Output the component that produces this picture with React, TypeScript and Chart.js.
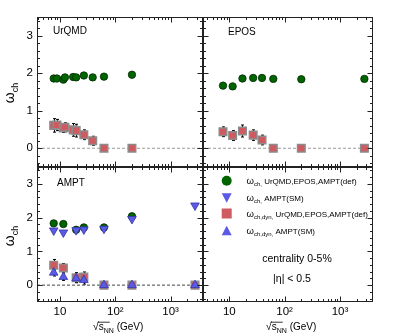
import React, { useEffect, useRef } from 'react';
import { Chart, registerables } from 'chart.js';
Chart.register(...registerables);

const W = 407;
const H = 336;
const FONT = '"Liberation Sans", Arial, Helvetica, sans-serif';

// ---------------- data ----------------
const urqmdEnergy = [7.7, 8.8, 11.5, 12.3, 17.3, 19.6, 27, 39, 62.4, 200];
const urqmdOmegaCh = [1.86, 1.86, 1.83, 1.89, 1.9, 1.89, 1.94, 1.89, 1.91, 1.96];
const urqmdOmegaDyn = [0.61, 0.62, 0.54, 0.56, 0.49, 0.47, 0.36, 0.2, 0.0, 0.0];
const urqmdOmegaDynErr = [0.18, 0.15, 0.12, 0.12, 0.17, 0.17, 0.13, 0.12, 0.08, 0.08];

const eposEnergy = [7.7, 11.5, 17.3, 27, 39, 62.4, 200, 2760];
const eposOmegaCh = [1.67, 1.65, 1.86, 1.875, 1.875, 1.85, 1.84, 1.85];
const eposOmegaDyn = [0.44, 0.34, 0.46, 0.35, 0.22, 0.0, 0.0, 0.0];
const eposOmegaDynErr = [0.13, 0.13, 0.16, 0.14, 0.13, 0.06, 0.06, 0.06];

const amptDefChEnergy = [7.7, 11.5, 19.6, 27, 62.4, 200];
const amptDefOmegaCh = [1.83, 1.81, 1.64, 1.71, 1.71, 2.04];
const amptDefDynEnergy = [7.7, 11.5, 19.6, 27, 62.4, 200, 2760];
const amptDefOmegaDyn = [0.59, 0.51, 0.22, 0.24, 0.0, 0.0, 0.0];
const amptDefOmegaDynErr = [0.17, 0.13, 0.15, 0.15, 0.1, 0.1, 0.08];
const amptSmEnergy = [7.7, 11.5, 19.6, 27, 62.4, 200, 2760];
const amptSmOmegaCh = [1.62, 1.56, 1.63, 1.65, 1.67, 1.96, 2.36];
const amptSmOmegaDyn = [0.37, 0.24, 0.2, 0.15, 0.0, 0.0, 0.0];
const amptSmOmegaDynErr = [0.1, 0.1, 0.12, 0.12, 0.1, 0.1, 0.06];

const yTickValues = [0, 1, 2, 3];
const xTickValues = [10, 100, 1000];
const xTickLabels = ['10', '10²', '10³'];

const legendLabels = [
  { sub: 'ch,', text: ' UrQMD,EPOS,AMPT(def)' },
  { sub: 'ch,', text: ' AMPT(SM)' },
  { sub: 'ch,dyn,', text: ' UrQMD,EPOS,AMPT(def)' },
  { sub: 'ch,dyn,', text: ' AMPT(SM)' },
];

// ---------------- styles ----------------
const GREEN = '#006400';
const RED = '#cf5a60';
const BLUE = '#5a5ae6';

const pts = (xs: number[], ys: number[]) => xs.map((x, i) => ({ x, y: ys[i] }));

const circleDs = (xs: number[], ys: number[]) => ({
  data: pts(xs, ys),
  pointStyle: 'circle',
  pointRadius: 3.7,
  backgroundColor: GREEN,
  borderColor: '#002800',
  borderWidth: 0.8,
});
const squareDs = (xs: number[], ys: number[]) => ({
  data: pts(xs, ys),
  pointStyle: 'rect',
  pointRadius: 5.4,
  backgroundColor: RED,
  borderColor: '#8c8c8c',
  borderWidth: 1.4,
});
const triDs = (xs: number[], ys: number[], down: boolean) => ({
  data: pts(xs, ys),
  pointStyle: 'triangle',
  rotation: down ? 180 : 0,
  pointRadius: 5,
  backgroundColor: BLUE,
  borderColor: '#3535a8',
  borderWidth: 0.8,
});
const zeroDs = (xMin: number, xMax: number, color: string) => ({
  data: [
    { x: xMin, y: 0 },
    { x: xMax, y: 0 },
  ],
  showLine: true,
  borderColor: color,
  borderWidth: 1,
  borderDash: [3, 2],
  pointRadius: 0,
});

type Part = { t: string; size: number; dy?: number; over?: boolean };

function drawParts(ctx: CanvasRenderingContext2D, parts: Part[], x: number, y: number, align: 'left' | 'center') {
  const widths = parts.map((p) => {
    ctx.font = `${p.size}px ${FONT}`;
    return ctx.measureText(p.t).width;
  });
  const total = widths.reduce((a, b) => a + b, 0);
  let cx = align === 'center' ? x - total / 2 : x;
  ctx.textAlign = 'left';
  ctx.textBaseline = 'alphabetic';
  parts.forEach((p, i) => {
    ctx.font = `${p.size}px ${FONT}`;
    ctx.fillText(p.t, cx, y + (p.dy || 0));
    if (p.over) {
      ctx.beginPath();
      ctx.moveTo(cx - 1, y - p.size * 0.78);
      ctx.lineTo(cx + widths[i] + 6, y - p.size * 0.78);
      ctx.lineWidth = 0.8;
      ctx.stroke();
    }
    cx += widths[i];
  });
}

function drawOmegaTitle(ctx: CanvasRenderingContext2D, x: number, yc: number) {
  ctx.save();
  ctx.translate(x, yc);
  ctx.rotate(-Math.PI / 2);
  ctx.fillStyle = '#000';
  drawParts(ctx, [
    { t: 'ω', size: 14 },
    { t: 'ch', size: 9, dy: 4 },
  ], 0, 0, 'center');
  ctx.restore();
}

function drawXTitle(ctx: CanvasRenderingContext2D, xc: number, y: number) {
  ctx.save();
  ctx.fillStyle = '#000';
  ctx.strokeStyle = '#000';
  drawParts(ctx, [
    { t: '√', size: 11 },
    { t: 's', size: 10, over: true },
    { t: 'NN', size: 7, dy: 2.5 },
    { t: ' (GeV)', size: 10 },
  ], xc, y, 'center');
  ctx.restore();
}

type ErrSet = { x: number[]; y: number[]; e: number[] };
type PanelDef = {
  rect: [number, number, number, number];
  xMin: number;
  xMax: number;
  showX: boolean;
  showY: boolean;
  datasets: any[];
  errors: ErrSet[];
  deco: (ctx: CanvasRenderingContext2D, chart: any) => void;
};

const Y_AXIS_W = 30;
const X_AXIS_H = 30;

function buildConfig(p: PanelDef): any {
  const [l, t, r, b] = p.rect;
  const padding = {
    left: p.showY ? l - Y_AXIS_W : l,
    top: t,
    right: W - r,
    bottom: p.showX ? H - b - X_AXIS_H : H - b,
  };
  const plugin = {
    id: 'panelDeco',
    beforeDatasetsDraw(chart: any) {
      const ctx = chart.ctx as CanvasRenderingContext2D;
      const xs = chart.scales.x;
      const ys = chart.scales.y;
      ctx.save();
      ctx.strokeStyle = '#000';
      ctx.lineWidth = 1;
      for (const eb of p.errors) {
        eb.x.forEach((xv, i) => {
          const px = Math.round(xs.getPixelForValue(xv)) + 0.5;
          const y1 = ys.getPixelForValue(eb.y[i] - eb.e[i]);
          const y2 = ys.getPixelForValue(eb.y[i] + eb.e[i]);
          ctx.beginPath();
          ctx.moveTo(px, y1);
          ctx.lineTo(px, y2);
          ctx.moveTo(px - 1.5, y1);
          ctx.lineTo(px + 1.5, y1);
          ctx.moveTo(px - 1.5, y2);
          ctx.lineTo(px + 1.5, y2);
          ctx.stroke();
        });
      }
      ctx.restore();
    },
    afterDraw(chart: any) {
      const ctx = chart.ctx as CanvasRenderingContext2D;
      const a = chart.chartArea;
      const xs = chart.scales.x;
      const ys = chart.scales.y;
      ctx.save();
      ctx.strokeStyle = '#222';
      ctx.lineWidth = 1;
      const L = Math.round(a.left) + 0.5;
      const R = Math.round(a.right) - 0.5;
      const T = Math.round(a.top) + 0.5;
      const B = Math.round(a.bottom) - 0.5;
      ctx.strokeRect(L, T, R - L, B - T);
      ctx.beginPath();
      for (let i = -2; i <= 17; i++) {
        const v = i / 5;
        const py = Math.round(ys.getPixelForValue(v)) + 0.5;
        const len = i % 5 === 0 ? 5 : 2.5;
        ctx.moveTo(L, py);
        ctx.lineTo(L + len, py);
        ctx.moveTo(R, py);
        ctx.lineTo(R - len, py);
      }
      for (let n = 0; n <= 3; n++) {
        for (let k = 1; k <= 9; k++) {
          const v = k * Math.pow(10, n);
          if (v < p.xMin || v > p.xMax) continue;
          const px = Math.round(xs.getPixelForValue(v)) + 0.5;
          const len = k === 1 ? 5 : 2.5;
          ctx.moveTo(px, B);
          ctx.lineTo(px, B - len);
          ctx.moveTo(px, T);
          ctx.lineTo(px, T + len);
        }
      }
      ctx.stroke();
      ctx.restore();
      ctx.save();
      ctx.fillStyle = '#000';
      ctx.strokeStyle = '#000';
      p.deco(ctx, chart);
      ctx.restore();
    },
  };
  return {
    type: 'scatter',
    data: { datasets: p.datasets },
    plugins: [plugin],
    options: {
      animation: false,
      responsive: false,
      maintainAspectRatio: false,
      layout: { padding, autoPadding: false },
      plugins: { legend: { display: false }, tooltip: { enabled: false } },
      scales: {
        x: {
          type: 'logarithmic',
          min: p.xMin,
          max: p.xMax,
          display: p.showX,
          grid: { display: false, drawTicks: false },
          border: { display: false },
          ticks: {
            autoSkip: false,
            maxRotation: 0,
            padding: 3,
            color: '#000',
            font: { family: FONT, size: 11.5 },
            callback: (v: number) => {
              const idx = xTickValues.indexOf(v);
              return idx >= 0 ? xTickLabels[idx] : '';
            },
          },
          afterBuildTicks: (s: any) => {
            s.ticks = xTickValues.map((v) => ({ value: v }));
          },
          afterFit: (s: any) => {
            s.height = p.showX ? X_AXIS_H : 0;
          },
        },
        y: {
          type: 'linear',
          min: -0.5,
          max: 3.5,
          display: p.showY,
          grid: { display: false, drawTicks: false },
          border: { display: false },
          ticks: {
            padding: 4,
            color: '#000',
            font: { family: FONT, size: 11.5 },
            callback: (v: number) => String(v),
          },
          afterBuildTicks: (s: any) => {
            s.ticks = yTickValues.map((v) => ({ value: v }));
          },
          afterFit: (s: any) => {
            s.width = p.showY ? Y_AXIS_W : 0;
          },
        },
      },
    },
  };
}

const LX = [37, 203] as const;
const RX = [203, 373] as const;
const TOPY = [17, 167] as const;
const BOTY = [167, 302] as const;
const LMIN = 3.84, LMAX = 3850;
const RMIN = 3.35, RMAX = 3950;

function label(ctx: CanvasRenderingContext2D, text: string, x: number, y: number, size: number) {
  ctx.font = `${size}px ${FONT}`;
  ctx.textAlign = 'left';
  ctx.textBaseline = 'alphabetic';
  ctx.fillText(text, x, y);
}

const panels: PanelDef[] = [
  {
    rect: [LX[0], TOPY[0], LX[1], TOPY[1]],
    xMin: LMIN,
    xMax: LMAX,
    showX: false,
    showY: true,
    datasets: [
      circleDs(urqmdEnergy, urqmdOmegaCh),
      squareDs(urqmdEnergy, urqmdOmegaDyn),
      zeroDs(LMIN, LMAX, '#9a9a9a'),
    ],
    errors: [{ x: urqmdEnergy, y: urqmdOmegaDyn, e: urqmdOmegaDynErr }],
    deco: (ctx) => {
      label(ctx, 'UrQMD', 53, 34, 10);
      drawOmegaTitle(ctx, 14, 93);
    },
  },
  {
    rect: [RX[0], TOPY[0], RX[1], TOPY[1]],
    xMin: RMIN,
    xMax: RMAX,
    showX: false,
    showY: false,
    datasets: [
      circleDs(eposEnergy, eposOmegaCh),
      squareDs(eposEnergy, eposOmegaDyn),
      zeroDs(RMIN, RMAX, '#9a9a9a'),
    ],
    errors: [{ x: eposEnergy, y: eposOmegaDyn, e: eposOmegaDynErr }],
    deco: (ctx) => {
      label(ctx, 'EPOS', 228, 35, 10);
    },
  },
  {
    rect: [LX[0], BOTY[0], LX[1], BOTY[1]],
    xMin: LMIN,
    xMax: LMAX,
    showX: true,
    showY: true,
    datasets: [
      triDs(amptSmEnergy, amptSmOmegaDyn, false),
      triDs(amptSmEnergy, amptSmOmegaCh, true),
      squareDs(amptDefDynEnergy, amptDefOmegaDyn),
      circleDs(amptDefChEnergy, amptDefOmegaCh),
      zeroDs(LMIN, LMAX, '#444444'),
    ],
    errors: [
      { x: amptDefDynEnergy, y: amptDefOmegaDyn, e: amptDefOmegaDynErr },
      { x: amptSmEnergy, y: amptSmOmegaDyn, e: amptSmOmegaDynErr },
    ],
    deco: (ctx) => {
      label(ctx, 'AMPT', 57, 185.5, 10);
      drawOmegaTitle(ctx, 14, 236);
      drawXTitle(ctx, 118, 330);
    },
  },
  {
    rect: [RX[0], BOTY[0], RX[1], BOTY[1]],
    xMin: RMIN,
    xMax: RMAX,
    showX: true,
    showY: false,
    datasets: [],
    errors: [],
    deco: (ctx) => {
      const mx = 226.7;
      const rows = [180.7, 197.7, 213.5, 230.7];
      ctx.fillStyle = GREEN;
      ctx.beginPath();
      ctx.arc(mx, rows[0], 5, 0, Math.PI * 2);
      ctx.fill();
      ctx.fillStyle = BLUE;
      ctx.beginPath();
      ctx.moveTo(mx - 5, rows[1] - 4.5);
      ctx.lineTo(mx + 5, rows[1] - 4.5);
      ctx.lineTo(mx, rows[1] + 5);
      ctx.closePath();
      ctx.fill();
      ctx.fillStyle = RED;
      ctx.fillRect(mx - 5, rows[2] - 5, 10, 10);
      ctx.fillStyle = BLUE;
      ctx.beginPath();
      ctx.moveTo(mx - 5, rows[3] + 4.5);
      ctx.lineTo(mx + 5, rows[3] + 4.5);
      ctx.lineTo(mx, rows[3] - 5);
      ctx.closePath();
      ctx.fill();
      ctx.fillStyle = '#000';
      legendLabels.forEach((lb, i) => {
        drawParts(ctx, [
          { t: 'ω', size: 9.5 },
          { t: lb.sub, size: 6, dy: 2 },
          { t: lb.text, size: 8 },
        ], 246.5, rows[i] + 3, 'left');
      });
      drawParts(ctx, [{ t: 'centrality 0-5%', size: 10.5 }], 297, 261.5, 'center');
      drawParts(ctx, [{ t: '|η| < 0.5', size: 10.5 }], 292, 281.5, 'center');
      drawXTitle(ctx, 291, 330);
    },
  },
];

export default function App() {
  const r0 = useRef<HTMLCanvasElement>(null);
  const r1 = useRef<HTMLCanvasElement>(null);
  const r2 = useRef<HTMLCanvasElement>(null);
  const r3 = useRef<HTMLCanvasElement>(null);
  const refs = [r0, r1, r2, r3];
  useEffect(() => {
    const charts = panels.map((p, i) => new Chart(refs[i].current as HTMLCanvasElement, buildConfig(p)));
    return () => charts.forEach((c) => c.destroy());
  }, []);
  return (
    <div style={{ position: 'absolute', left: 0, top: 0, width: W, height: H, background: '#fff' }}>
      {refs.map((r, i) => (
        <canvas
          key={i}
          ref={r}
          width={W}
          height={H}
          style={{ position: 'absolute', left: 0, top: 0, width: W, height: H }}
        />
      ))}
    </div>
  );
}
